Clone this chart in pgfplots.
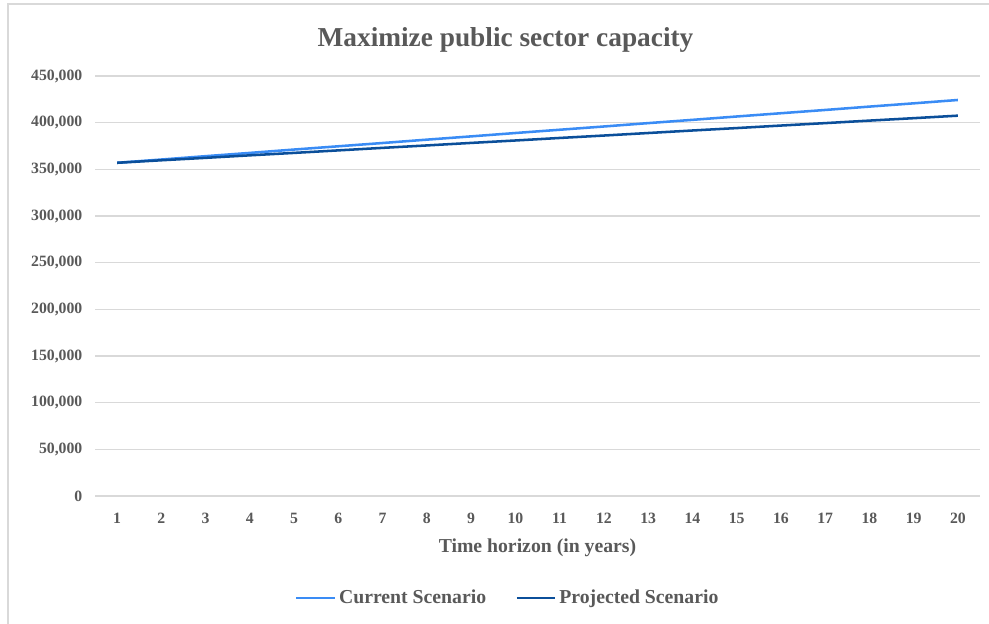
\documentclass[border=0pt]{standalone}
\usepackage{pgfplots}
\pgfplotsset{compat=1.18}
\usepackage{fontspec}
\setmainfont{Liberation Serif}

\definecolor{txt}{HTML}{595959}
\definecolor{gridc}{HTML}{D9D9D9}
\definecolor{curblue}{HTML}{3A8CF5}
\definecolor{projblue}{HTML}{0B4F9A}

\pgfplotstableread{
year current projected
1  357000 357000
2  360500 359700
3  364100 362300
4  367600 365000
5  371200 367600
6  374700 370300
7  378200 373000
8  381800 375600
9  385300 378300
10 388900 380900
11 392400 383600
12 395900 386200
13 399500 388900
14 403000 391600
15 406600 394200
16 410100 396900
17 413600 399500
18 417200 402200
19 420700 404800
20 424300 407500
}\datatable

\begin{document}
\begin{tikzpicture}
\useasboundingbox (0,0) rectangle (741.75pt,468pt);
\fill[white] (0,0) rectangle (741.75pt,468pt);
\draw[gridc, line width=1pt] (6pt,0) -- (6pt,465pt) -- (741.75pt,465pt);
\begin{axis}[
  at={(71.25pt,96pt)}, anchor=south west,
  scale only axis,
  width=663.75pt, height=315pt,
  xmin=0.5, xmax=20.5,
  ymin=0, ymax=450000,
  xtick={1,...,20},
  ytick distance=50000,
  scaled y ticks=false,
  axis line style={draw=none},
  major tick length=0pt,
  ymajorgrids,
  grid style={gridc, line width=0.9pt},
  font=\bfseries,
  tick label style={txt, font=\fontsize{11.8}{13}\selectfont\bfseries},
  /pgf/number format/assume math mode=true,
  /pgf/number format/1000 sep={,},
  /pgf/number format/fixed,
  yticklabel style={xshift=-6pt},
  xticklabel style={yshift=-9pt},
  title={Maximize public sector capacity},
  title style={txt, font=\fontsize{20.5}{23}\selectfont\bfseries, at={(0.5,1)}, anchor=center, yshift=21pt, xshift=-24pt},
  xlabel={Time horizon (in years)},
  xlabel style={txt, font=\fontsize{14.8}{17}\selectfont\bfseries, at={(0.5,0)}, anchor=center, yshift=-39pt},
  legend columns=2,
  legend style={at={(0.5,0)}, anchor=center, yshift=-76.5pt, xshift=-22pt, draw=none, fill=none,
    font=\fontsize{14.8}{17}\selectfont\bfseries, text=txt,
    /tikz/every even column/.append style={column sep=20pt}},
  legend image code/.code={\draw[#1] (0pt,0pt) -- (29pt,0pt);},
]
\addplot[curblue, line width=1.9pt] table[x=year, y=current] {\datatable};
\addlegendentry{Current Scenario}
\addplot[projblue, line width=1.9pt] table[x=year, y=projected] {\datatable};
\addlegendentry{Projected Scenario}
\end{axis}
\end{tikzpicture}
\end{document}
